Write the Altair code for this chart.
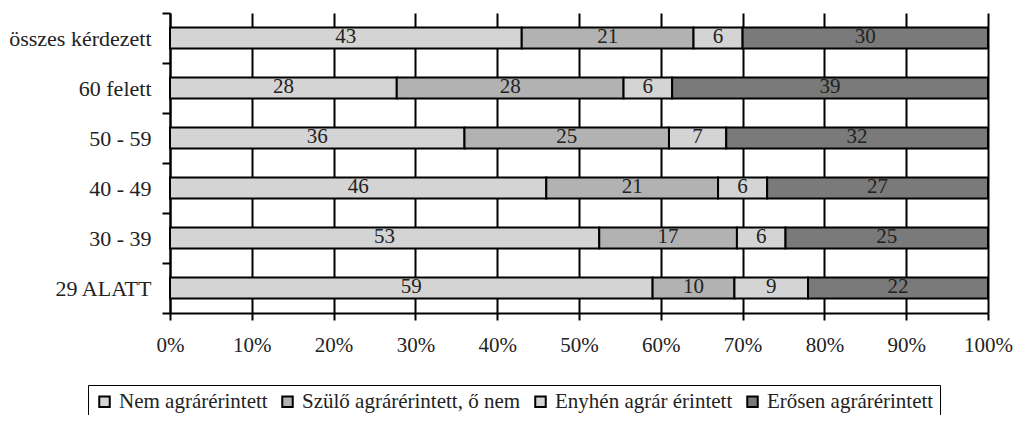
import altair as alt
import pandas as pd

groups = ["összes kérdezett", "60 felett", "50 - 59", "40 - 49", "30 - 39", "29 ALATT"]
series = ["Nem agrárérintett", "Szülő agrárérintett, ő nem", "Enyhén agrár érintett", "Erősen agrárérintett"]
nem = [43, 28, 36, 46, 53, 59]
szulo = [21, 28, 25, 21, 17, 10]
enyhen = [6, 6, 7, 6, 6, 9]
erosen = [30, 39, 32, 27, 25, 22]
colors = ["#d4d4d4", "#b2b2b2", "#d4d4d4", "#7a7a7a"]
x_ticks = [i / 10 for i in range(11)]

rows = []
for si, (s, vals) in enumerate(zip(series, [nem, szulo, enyhen, erosen])):
    for g, v in zip(groups, vals):
        rows.append({"group": g, "series": s, "value": v, "order": si})
df = pd.DataFrame(rows)

FONT = "Liberation Serif"

base = alt.Chart(df).transform_stack(
    stack="value", groupby=["group"], as_=["x0", "x1"], offset="normalize",
    sort=[alt.SortField("order", order="ascending")]
).transform_calculate(mid="(datum.x0 + datum.x1) / 2")

y_enc = alt.Y("group:N", sort=groups, title=None,
              scale=alt.Scale(paddingInner=0, paddingOuter=0),
              axis=alt.Axis(tickBand="extent", domainColor="black", domainWidth=2,
                            tickColor="black", tickWidth=2, tickSize=8, labelPadding=11,
                            labelFont=FONT, labelFontSize=22, labelColor="#222", grid=False))

bars = base.mark_bar(size=21, stroke="black", strokeWidth=2).encode(
    x=alt.X("x0:Q", scale=alt.Scale(domain=[0, 1], nice=False), title=None,
            axis=alt.Axis(values=x_ticks, format=".0%", grid=True, gridColor="black",
                          gridWidth=2, gridOpacity=1, domainColor="black", domainWidth=2,
                          tickColor="black", tickWidth=2, tickSize=7, labelPadding=14,
                          labelFlush=False,
                          labelFont=FONT, labelFontSize=21, labelColor="#222")),
    x2="x1:Q",
    y=y_enc,
    color=alt.Color("series:N", sort=series,
                    scale=alt.Scale(domain=series, range=colors),
                    legend=alt.Legend(title=None, orient="none", direction="horizontal",
                                      legendX=-82, legendY=372, columns=4,
                                      strokeColor="black", padding=6,
                                      symbolType="square", symbolSize=110,
                                      symbolStrokeColor="black", symbolStrokeWidth=2,
                                      labelFont=FONT, labelFontSize=21, labelColor="#222",
                                      labelLimit=400, labelOffset=4, columnPadding=9)),
    order=alt.Order("order:Q"),
)

labels = base.mark_text(font=FONT, fontSize=21, color="#222", baseline="middle", dy=-1).encode(
    x=alt.X("mid:Q"),
    y=alt.Y("group:N", sort=groups),
    text=alt.Text("value:Q"),
)

chart = alt.layer(bars, labels).properties(
    width=818, height=300,
    autosize=alt.AutoSizeParams(type="none"),
    padding={"left": 162, "top": 5, "right": 26, "bottom": 102},
).configure_view(stroke=None)

chart.save("out.html", embed_options={"renderer": "svg", "actions": False})
